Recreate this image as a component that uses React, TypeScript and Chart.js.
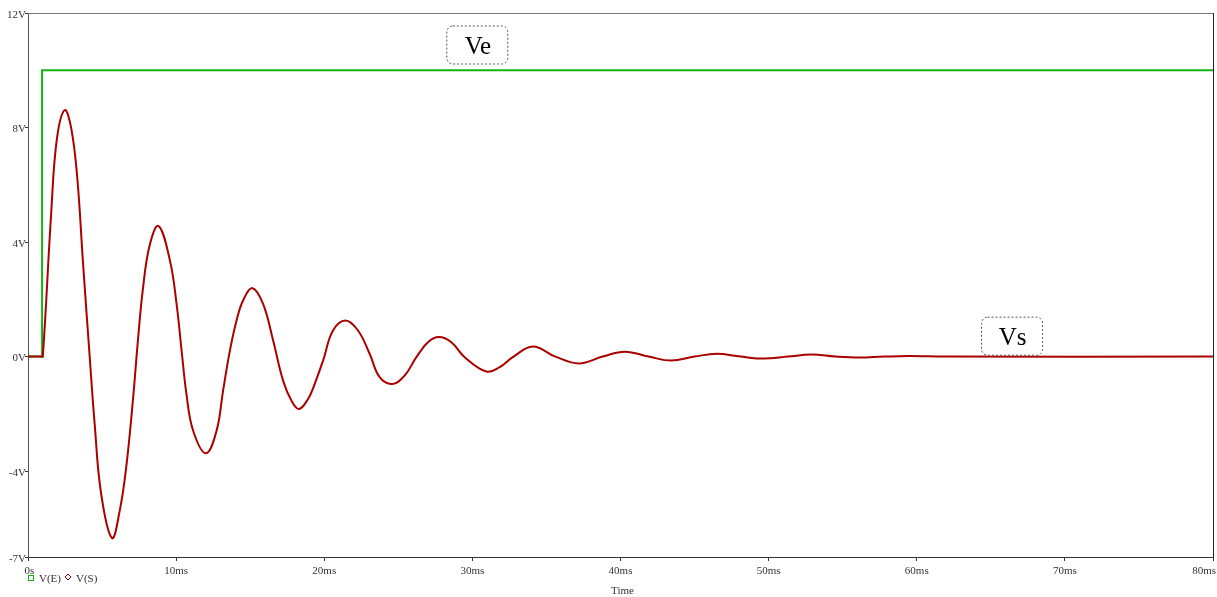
import React, { useEffect, useRef } from "react";
import { Chart, registerables } from "chart.js";

Chart.register(...registerables);

// ---- data ----
const xTickValues = [0, 10, 20, 30, 40, 50, 60, 70, 80];
const xTickLabels = ["0s", "10ms", "20ms", "30ms", "40ms", "50ms", "60ms", "70ms", "80ms"];
const yTickValues = [-7, -4, 0, 4, 8, 12];
const yTickLabels = ["-7V", "-4V", "0V", "4V", "8V", "12V"];

const veTime = [0, 0.95, 0.95, 80];
const veValue = [0, 0, 10, 10];

const vsTime = [
  0, 0.9, 1.0, 1.57, 1.95, 2.48, 2.92, 3.33, 3.71, 4.16, 4.5, 4.94, 5.67, 6.19, 6.63, 7.08, 7.42, 7.76, 8.21,
  8.81, 9.58, 10.03, 10.37, 10.7, 11.15, 12.01, 12.73, 13.17, 13.63, 14.08, 14.52, 15.15, 15.87, 16.55,
  17.22, 17.79, 18.3, 18.91, 19.25, 19.92, 20.59, 21.43, 22.28, 23.07, 23.74, 24.6, 25.43, 26.22, 27.0,
  27.74, 28.58, 29.48, 30.94, 31.84, 32.73, 34.08, 35.6, 37.2, 38.8, 40.3, 41.9, 43.4, 45.0, 46.5, 48.1,
  49.7, 51.3, 52.9, 54.5, 56.1, 57.8, 59.5, 62, 80,
];
const vsValue = [
  0, 0, 0, 5.05, 7.6, 8.61, 7.97, 6.22, 3.3, 0.03, -2.35, -4.8, -6.34, -5.39, -3.87, -1.54, 0.56, 2.37, 3.88,
  4.56, 3.36, 1.84, 0.21, -1.32, -2.59, -3.38, -2.59, -1.19, 0.21, 1.26, 1.96, 2.39, 1.84, 0.56,
  -0.84, -1.54, -1.83, -1.48, -1.1, -0.14, 0.91, 1.26, 0.91, 0.09, -0.72, -0.96, -0.66, -0.02, 0.5,
  0.68, 0.5, -0.02, -0.52, -0.37, -0.02, 0.35, 0.0, -0.24, 0.0, 0.17, 0.0, -0.14, 0.0, 0.1, 0.0,
  -0.07, 0.0, 0.07, 0.0, -0.035, 0.0, 0.02, 0, 0,
];

const seriesNames = ["V(E)", "V(S)"];
const axisTitle = "Time";
const noteLabels = ["Ve", "Vs"];
const notePos = [
  { t: 30.3, v: 10.9 },
  { t: 66.4, v: 0.73 },
];

const GREEN = "#14b414";
const RED = "#aa0000";
const AXIS = "#333333";
const FONT = "'Liberation Serif', 'DejaVu Serif', serif";

function roundRect(ctx: CanvasRenderingContext2D, x: number, y: number, w: number, h: number, r: number) {
  ctx.beginPath();
  ctx.moveTo(x + r, y);
  ctx.lineTo(x + w - r, y);
  ctx.arcTo(x + w, y, x + w, y + r, r);
  ctx.lineTo(x + w, y + h - r);
  ctx.arcTo(x + w, y + h, x + w - r, y + h, r);
  ctx.lineTo(x + r, y + h);
  ctx.arcTo(x, y + h, x, y + h - r, r);
  ctx.lineTo(x, y + r);
  ctx.arcTo(x, y, x + r, y, r);
  ctx.closePath();
}

const decorPlugin = {
  id: "decor",
  afterDraw(chart: any) {
    const ctx: CanvasRenderingContext2D = chart.ctx;
    const { left, right, top, bottom } = chart.chartArea;
    const xs = chart.scales.x;
    const ys = chart.scales.y;
    ctx.save();
    // top & right frame
    ctx.strokeStyle = "#777";
    ctx.lineWidth = 1;
    ctx.beginPath();
    ctx.moveTo(left, top + 0.5);
    ctx.lineTo(right, top + 0.5);
    ctx.stroke();
    ctx.strokeStyle = "#222";
    ctx.beginPath();
    ctx.moveTo(right + 0.5, top);
    ctx.lineTo(right + 0.5, bottom);
    ctx.stroke();

    ctx.fillStyle = AXIS;
    ctx.font = `11px ${FONT}`;
    // y labels
    ctx.textAlign = "right";
    ctx.textBaseline = "middle";
    yTickValues.forEach((v, i) => {
      ctx.fillText(yTickLabels[i], left - 2, ys.getPixelForValue(v) + 2);
    });
    // x labels
    ctx.textBaseline = "alphabetic";
    xTickValues.forEach((v, i) => {
      const px = xs.getPixelForValue(v);
      const w = ctx.measureText(xTickLabels[i]).width;
      let cx = px;
      if (cx + w / 2 > chart.width - 1) cx = chart.width - 1 - w / 2;
      if (i === 0) cx = px + 1.5;
      ctx.textAlign = "center";
      ctx.fillText(xTickLabels[i], cx, bottom + 17);
    });
    // axis title
    ctx.textAlign = "center";
    ctx.fillText(axisTitle, (left + right) / 2 + 2, bottom + 37);

    // legend
    ctx.textAlign = "left";
    ctx.strokeStyle = GREEN;
    ctx.lineWidth = 1;
    ctx.strokeRect(left + 0.5, bottom + 18.5, 5, 5);
    ctx.fillStyle = AXIS;
    ctx.fillText(seriesNames[0], left + 11, bottom + 25);
    ctx.strokeStyle = RED;
    const dx = left + 40, dy = bottom + 20;
    ctx.beginPath();
    ctx.moveTo(dx, dy - 3);
    ctx.lineTo(dx + 3, dy);
    ctx.lineTo(dx, dy + 3);
    ctx.lineTo(dx - 3, dy);
    ctx.closePath();
    ctx.stroke();
    ctx.fillText(seriesNames[1], left + 48, bottom + 25);

    // annotation boxes
    notePos.forEach((p, i) => {
      const cx = xs.getPixelForValue(p.t);
      const cy = ys.getPixelForValue(p.v);
      const w = 61, h = 38;
      ctx.fillStyle = "#fff";
      roundRect(ctx, cx - w / 2 + 0.5, cy - h / 2 + 0.5, w, h, 6);
      ctx.fill();
      ctx.setLineDash([2, 2]);
      ctx.strokeStyle = "#555";
      ctx.lineWidth = 1;
      ctx.stroke();
      ctx.setLineDash([]);
      ctx.fillStyle = "#000";
      ctx.font = `25px ${FONT}`;
      ctx.textAlign = "center";
      ctx.textBaseline = "alphabetic";
      ctx.fillText(noteLabels[i], cx + 1, cy + 9.5);
      ctx.font = `11px ${FONT}`;
    });
    ctx.restore();
  },
};

export default function App() {
  const ref = useRef<HTMLCanvasElement | null>(null);

  useEffect(() => {
    if (!ref.current) return;
    const chart = new Chart(ref.current, {
      type: "line",
      data: {
        datasets: [
          {
            label: seriesNames[1],
            data: vsTime.map((t, i) => ({ x: t, y: vsValue[i] })),
            borderColor: RED,
            borderWidth: 2,
            pointRadius: 0,
            tension: 0.4,
            fill: false,
          },
          {
            label: seriesNames[0],
            data: veTime.map((t, i) => ({ x: t, y: veValue[i] })),
            borderColor: GREEN,
            borderWidth: 2,
            pointRadius: 0,
            tension: 0,
            fill: false,
          },
        ],
      },
      options: {
        responsive: false,
        animation: false,
        events: [],
        layout: { padding: { top: 13, right: 4, left: 0, bottom: 0 } },
        plugins: { legend: { display: false }, tooltip: { enabled: false }, title: { display: false } },
        scales: {
          x: {
            type: "linear",
            min: 0,
            max: 80,
            afterBuildTicks: (s: any) => {
              s.ticks = xTickValues.map((v) => ({ value: v }));
            },
            afterFit: (s: any) => {
              s.height = 40;
              s.paddingLeft = 0;
              s.paddingRight = 0;
            },
            ticks: { display: false },
            grid: { drawOnChartArea: false, drawTicks: true, tickLength: 4, color: AXIS },
            border: { display: true, color: AXIS, width: 1 },
          },
          y: {
            type: "linear",
            min: -7,
            max: 12,
            afterBuildTicks: (s: any) => {
              s.ticks = yTickValues.map((v) => ({ value: v }));
            },
            afterFit: (s: any) => {
              s.width = 28;
              s.paddingTop = 0;
              s.paddingBottom = 0;
            },
            ticks: { display: false },
            grid: { drawOnChartArea: false, drawTicks: true, tickLength: 3, color: AXIS },
            border: { display: true, color: "#555", width: 1 },
          },
        },
      },
      plugins: [decorPlugin],
    } as any);
    return () => chart.destroy();
  }, []);

  return (
    <div style={{ position: "absolute", left: 0, top: 0, width: 1217, height: 597, background: "#fff" }}>
      <canvas ref={ref} width={1217} height={597} style={{ display: "block" }} />
    </div>
  );
}
